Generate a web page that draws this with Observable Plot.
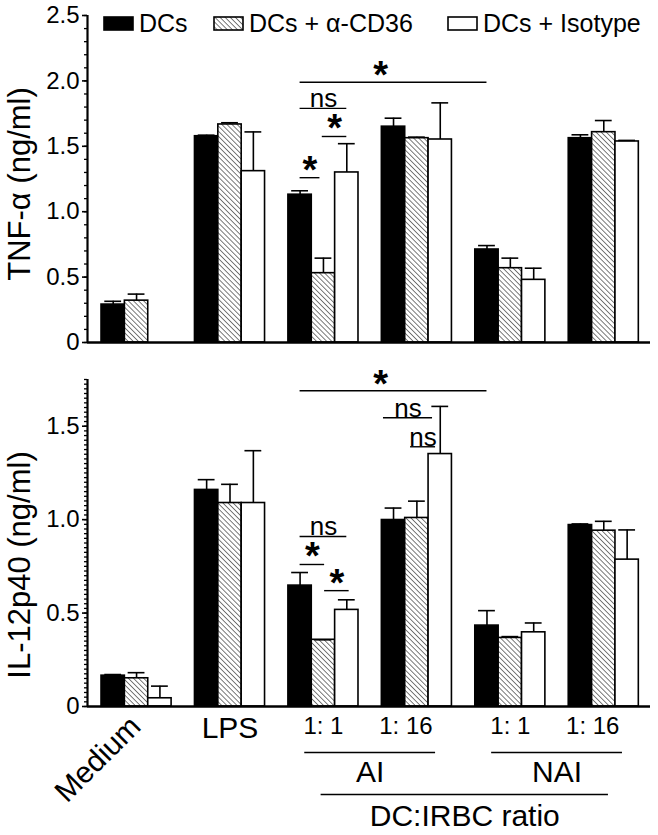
<!DOCTYPE html>
<html>
<head>
<meta charset="utf-8">
<script src="https://cdn.jsdelivr.net/npm/d3@7"></script>
<script src="https://cdn.jsdelivr.net/npm/@observablehq/plot@0.6"></script>
<style>
  body { margin: 0; background: #fff; font-family: "Liberation Sans", Arial, sans-serif; }
  #wrap { position: relative; width: 658px; height: 835px; overflow: hidden; }
  #legend { position: absolute; top: 0; left: 0; width: 658px; height: 40px; font-size: 25px; }
  .item { position: absolute; top: 9px; display: flex; align-items: center; height: 28px; white-space: nowrap; }
  .item svg { margin-right: 5px; }
  #topPanel, #bottomPanel { display: block; }
</style>
</head>
<body>
<svg style="position:absolute;width:0;height:0" aria-hidden="true">
  <defs>
    <pattern id="hatch" patternUnits="userSpaceOnUse" width="3.6" height="3.6" patternTransform="rotate(-45)">
      <rect width="3.6" height="3.6" fill="#fff"></rect>
      <line x1="0" y1="0" x2="0" y2="3.6" stroke="#333" stroke-width="1.3"></line>
    </pattern>
  </defs>
</svg>
<div id="wrap">
  <div id="topPanel"></div>
  <div id="bottomPanel"></div>
  <div id="legend"></div>
</div>
<script>
// ---------------- data ----------------
const groups = ["Medium", "LPS", "AI 1:1", "AI 1:16", "NAI 1:1", "NAI 1:16"];
const groupLabels = ["Medium", "LPS", "1: 1", "1: 16", "1: 1", "1: 16"];
const series = ["DCs", "DCs + α-CD36", "DCs + Isotype"];

// TNF-α (ng/ml): mean per group [DCs, +α-CD36, +Isotype], and upper error (SD)
const tnfMean = [
  [0.29, 0.32, null],
  [1.577, 1.667, 1.31],
  [1.13, 0.53, 1.30],
  [1.65, 1.562, 1.552],
  [0.711, 0.568, 0.479],
  [1.562, 1.608, 1.537]
];
const tnfErr = [
  [0.025, 0.05, null],
  [0.008, 0.013, 0.30],
  [0.03, 0.115, 0.22],
  [0.065, 0.008, 0.28],
  [0.03, 0.077, 0.089],
  [0.026, 0.089, 0.008]
];

// IL-12p40 (ng/ml)
const ilMean = [
  [0.165, 0.151, 0.044],
  [1.159, 1.089, 1.089],
  [0.647, 0.357, 0.517],
  [0.998, 1.009, 1.351],
  [0.433, 0.367, 0.397],
  [0.971, 0.941, 0.786]
];
const ilErr = [
  [0.006, 0.03, 0.065],
  [0.055, 0.10, 0.28],
  [0.07, 0.0, 0.054],
  [0.064, 0.09, 0.255],
  [0.08, 0.007, 0.05],
  [0.006, 0.05, 0.159]
];

// significance brackets: [group, bar] from -> to, height (data units), label
const tnfBrackets = [
  { from: [2, 0], to: [2, 0.85], y: 1.26, label: "*" },
  { from: [2, 0.95], to: [2, 2], y: 1.575, label: "*" },
  { from: [2, 0], to: [2, 2], y: 1.79, label: "ns" },
  { from: [2, 0], to: [4, 0], y: 1.99, label: "*" }
];
const ilBrackets = [
  { from: [2, 0], to: [4, 0], y: 1.69, label: "*" },
  { from: [3, -0.43], to: [3, 1.67], y: 1.545, label: "ns" },
  { from: [3, 0.73], to: [3, 1.8], y: 1.39, label: "ns" },
  { from: [2, 0], to: [2, 2], y: 0.91, label: "ns" },
  { from: [2, 0], to: [2, 1.05], y: 0.76, label: "*" },
  { from: [2, 1.05], to: [2, 2.1], y: 0.62, label: "*" }
];

const ratioGroups = [
  { label: "AI", groups: [2, 3] },
  { label: "NAI", groups: [4, 5] }
];
const ratioTitle = "DC:IRBC ratio";

const tnfTicks = [0, 0.5, 1.0, 1.5, 2.0, 2.5];
const ilTicks = [0, 0.5, 1.0, 1.5];

// ---------------- helpers ----------------
const fills = ["black", "url(#hatch)", "white"];
const SLOTS = 4; // 3 bars + 1 gap per group
const xDomain = [-0.6, 23.5];
const center = ([g, s]) => g * SLOTS + s + 0.5;

function barRows(means, errs) {
  const rows = [];
  groups.forEach((g, gi) => series.forEach((s, si) => {
    const m = means[gi][si];
    if (m == null) return;
    rows.push({ group: g, series: s, si, x1: gi * SLOTS + si, x2: gi * SLOTS + si + 1,
      xc: gi * SLOTS + si + 0.5, mean: m, top: m + errs[gi][si] });
  }));
  return rows;
}

function bracketRows(br) {
  return br.map(b => ({ ...b, x1: center(b.from), x2: center(b.to), xm: (center(b.from) + center(b.to)) / 2,
    long: b.to[0] !== b.from[0] }));
}

function panel({ means, errs, brackets, yMax, ticks, minorStep, title, height, marginTop, marginBottom, titleDy, extra = [] }) {
  const rows = barRows(means, errs);
  const br = bracketRows(brackets);
  const minor = d3.range(0, yMax + 1e-9, minorStep);
  return Plot.plot({
    width: 658,
    height,
    marginLeft: 87,
    marginRight: 8,
    marginTop,
    marginBottom,
    style: { fontFamily: "'Liberation Sans', Arial, sans-serif", fontSize: "24px", color: "black", background: "white", overflow: "visible" },
    x: { domain: xDomain, axis: null },
    y: { domain: [0, yMax], axis: null },
    marks: [
      ...series.map((s, si) => Plot.rect(rows.filter(d => d.si === si), {
        x1: "x1", x2: "x2", y1: () => 0, y2: "mean", fill: fills[si], stroke: "black", strokeWidth: 1.6
      })),
      Plot.ruleX(rows, { x: "xc", y1: "mean", y2: "top", stroke: "black", strokeWidth: 1.6 }),
      Plot.ruleY(rows, { x1: d => d.xc - 0.36, x2: d => d.xc + 0.36, y: "top", stroke: "black", strokeWidth: 1.6 }),
      // brackets
      Plot.ruleY(br, { x1: "x1", x2: "x2", y: "y", stroke: "black", strokeWidth: 1.4 }),
      Plot.text(br.filter(d => d.label === "*" && !d.long), { x: "xm", y: "y", text: "label", fontSize: 38, fontWeight: "bold", lineAnchor: "bottom", dy: 5 }),
      Plot.text(br.filter(d => d.label === "*" && d.long), { x: "xm", y: "y", text: "label", fontSize: 38, fontWeight: "bold", lineAnchor: "bottom", dx: -13, dy: 6 }),
      Plot.text(br.filter(d => d.label === "ns"), { x: "xm", y: "y", text: "label", fontSize: 26, lineAnchor: "bottom", dy: -1 }),
      // axes
      Plot.axisY({ ticks: minor, tickSize: 3, tickFormat: () => "", strokeWidth: 1.3, label: null }),
      Plot.axisY({ ticks, tickSize: 5, tickPadding: 3, strokeWidth: 1.6, fontSize: 24, label: null,
        tickFormat: d => d === 0 ? "0" : d.toFixed(1) }),
      Plot.ruleX([xDomain[0]], { stroke: "black", strokeWidth: 2.2 }),
      Plot.ruleY([0], { stroke: "black", strokeWidth: 2.6 }),
      Plot.text([title], { frameAnchor: "left", text: d => d, rotate: -90, textAnchor: "middle", lineAnchor: "middle", dx: -67, dy: titleDy, fontSize: 31 }),
      ...extra
    ]
  });
}

// ---------------- top panel ----------------
const topChart = panel({
  means: tnfMean, errs: tnfErr, brackets: tnfBrackets, yMax: 2.5, ticks: tnfTicks, minorStep: 0.1,
  title: "TNF-α (ng/ml)", height: 352, marginTop: 15, marginBottom: 10, titleDy: 5
});
document.getElementById("topPanel").appendChild(topChart);

// ---------------- bottom panel with category labels ----------------
const labelRows = groups.map((g, gi) => ({ label: groupLabels[gi], xc: gi * SLOTS + 1.5, gi }));
const ratioRows = ratioGroups.map(r => ({ label: r.label, x1: r.groups[0] * SLOTS + 0.7, x2: r.groups[1] * SLOTS + 3 - 0.7,
  xm: (r.groups[0] * SLOTS + r.groups[1] * SLOTS + 3) / 2 }));
const ratioSpan = { x1: ratioGroups[0].groups[0] * SLOTS + 1.4, x2: ratioGroups[1].groups[1] * SLOTS + 3 - 1.3 };

const extraMarks = [
  Plot.text(labelRows.filter(d => d.gi === 0), { x: "xc", y: () => 0, text: "label", rotate: -45, textAnchor: "end", lineAnchor: "middle", dx: -1, dy: 15, fontSize: 30 }),
  Plot.text(labelRows.filter(d => d.gi === 1), { x: "xc", y: () => 0, text: "label", lineAnchor: "middle", dy: 22, fontSize: 30 }),
  Plot.text(labelRows.filter(d => d.gi > 1 && d.label === "1: 1"), { x: "xc", y: () => 0, text: "label", lineAnchor: "middle", dy: 20, fontSize: 24 }),
  Plot.text(labelRows.filter(d => d.gi > 1 && d.label === "1: 16"), { x: "xc", y: () => 0, text: "label", lineAnchor: "middle", dx: -11, dy: 20, fontSize: 24 }),
  Plot.ruleY(ratioRows, { x1: "x1", x2: "x2", y: () => 0, dy: 46, stroke: "black", strokeWidth: 1.6 }),
  Plot.text(ratioRows, { x: "xm", y: () => 0, text: "label", lineAnchor: "middle", dy: 66, fontSize: 30 }),
  Plot.ruleY([ratioSpan], { x1: "x1", x2: "x2", y: () => 0, dy: 88, stroke: "black", strokeWidth: 1.6 }),
  Plot.text([ratioSpan], { x: d => (d.x1 + d.x2) / 2, y: () => 0, text: () => ratioTitle, lineAnchor: "middle", dy: 110, fontSize: 30 })
];

const bottomChart = panel({
  means: ilMean, errs: ilErr, brackets: ilBrackets, yMax: 1.75, ticks: ilTicks, minorStep: 0.025,
  title: "IL-12p40 (ng/ml)", height: 483, marginTop: 27, marginBottom: 129, titleDy: 22, extra: extraMarks
});
document.getElementById("bottomPanel").appendChild(bottomChart);

// ---------------- legend ----------------
const legendDiv = document.getElementById("legend");
const legendLeft = [103, 213, 447];
series.forEach((s, i) => {
  const item = document.createElement("div");
  item.className = "item";
  item.style.left = legendLeft[i] + "px";
  item.innerHTML = `<svg width="31" height="15"><rect x="1" y="1" width="29" height="13" fill="${fills[i]}" stroke="black" stroke-width="1.6"></rect></svg><span>${s}</span>`;
  legendDiv.appendChild(item);
});
</script>
</body>
</html>
